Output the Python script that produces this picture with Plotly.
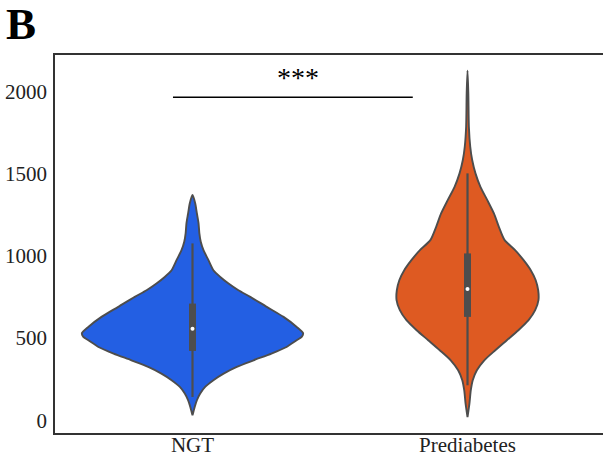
import plotly.graph_objects as go

# ---- data ----
categories = ["NGT", "Prediabetes"]
colors = ["#235FE3", "#DE5A22"]

# violin profiles: value levels and half-widths (in category units)
ngt_levels = [1370, 1319, 1258, 1198, 1137, 1086, 1035, 974, 913, 872, 832, 791, 751, 690,
              629, 568, 531, 507, 487, 446, 406, 365, 325, 284, 244, 203, 163, 122, 81, 30]
ngt_width = [0, 0.010, 0.016, 0.022, 0.025, 0.030, 0.040, 0.058, 0.076, 0.101, 0.131, 0.167,
             0.210, 0.270, 0.331, 0.379, 0.402, 0.397, 0.379, 0.342, 0.287, 0.222, 0.161,
             0.113, 0.076, 0.046, 0.028, 0.016, 0.008, 0]

pre_levels = [2127, 1989, 1786, 1664, 1583, 1502, 1420, 1339, 1258, 1177, 1096, 1035, 974,
              913, 852, 791, 731, 670, 609, 548, 487, 426, 365, 304, 244, 183, 102, 20]
pre_width = [0, 0.003, 0.005, 0.010, 0.017, 0.029, 0.047, 0.072, 0.096, 0.114, 0.135, 0.173,
             0.204, 0.230, 0.248, 0.257, 0.258, 0.246, 0.222, 0.185, 0.143, 0.101, 0.061,
             0.034, 0.019, 0.012, 0.007, 0]

# inner box statistics
q1 = [422, 629]
median = [557, 798]
q3 = [710, 1015]
whisker_low = [142, 213]
whisker_high = [1076, 1502]

# significance bracket
sig_text = "***"
sig_x = [-0.071, 0.801]
sig_y = 1965
sig_label_y = 2084

y_ticks = [0, 500, 1000, 1500, 2000]

profiles = [(ngt_levels, ngt_width), (pre_levels, pre_width)]

fig = go.Figure()
edge = "#4D4D4D"
for i, (lv, wd) in enumerate(profiles):
    xs = [i + w for w in wd] + [i - w for w in reversed(wd)]
    ys = list(lv) + list(reversed(lv))
    fig.add_trace(go.Scatter(x=xs, y=ys, mode="lines", fill="toself",
                             fillcolor=colors[i],
                             line=dict(color=edge, width=1.9, shape="spline", smoothing=0.7),
                             hoverinfo="skip", showlegend=False))
    fig.add_trace(go.Scatter(x=[i, i], y=[whisker_low[i], whisker_high[i]], mode="lines",
                             line=dict(color=edge, width=2.2), showlegend=False, hoverinfo="skip"))
    fig.add_trace(go.Scatter(x=[i, i], y=[q1[i], q3[i]], mode="lines",
                             line=dict(color=edge, width=7), showlegend=False, hoverinfo="skip"))
    fig.add_trace(go.Scatter(x=[i], y=[median[i]], mode="markers",
                             marker=dict(color="white", size=4, line=dict(width=0)),
                             showlegend=False, hoverinfo="skip"))

# significance line
fig.add_trace(go.Scatter(x=sig_x, y=[sig_y, sig_y], mode="lines",
                         line=dict(color="black", width=1.5), showlegend=False, hoverinfo="skip"))
fig.add_annotation(x=sum(sig_x) / 2 + 0.017, y=sig_label_y, text=sig_text, showarrow=False,
                   font=dict(family="Liberation Serif", size=28, color="black"),
                   xanchor="center", yanchor="middle")

fig.add_annotation(xref="paper", yref="paper", x=-0.093, y=1.083, text="<b>B</b>",
                   showarrow=False, xanchor="left", yanchor="middle",
                   font=dict(family="Liberation Serif", size=45, color="black"))

fig.update_layout(
    width=603, height=461,
    margin=dict(l=55, r=0, t=55, b=28),
    paper_bgcolor="white", plot_bgcolor="white",
    font=dict(family="Liberation Serif", size=21, color="#222222"),
    xaxis=dict(range=[-0.5, 1.4927], tickvals=[0, 1], ticktext=categories,
               showgrid=False, zeroline=False, showline=True, mirror=True,
               linecolor="#333333", linewidth=1.6, ticks="", automargin=False,
               ticklabelstandoff=-8),
    yaxis=dict(range=[-77.3, 2222], tickvals=y_ticks, showgrid=False, zeroline=False,
               showline=True, linecolor="#333333", linewidth=1.6, ticks="", automargin=False,
               ticklabelstandoff=2),
)

fig.write_html("out.html", config={"displayModeBar": False},
               post_script="document.body.style.margin='0';document.body.style.overflow='hidden';")
